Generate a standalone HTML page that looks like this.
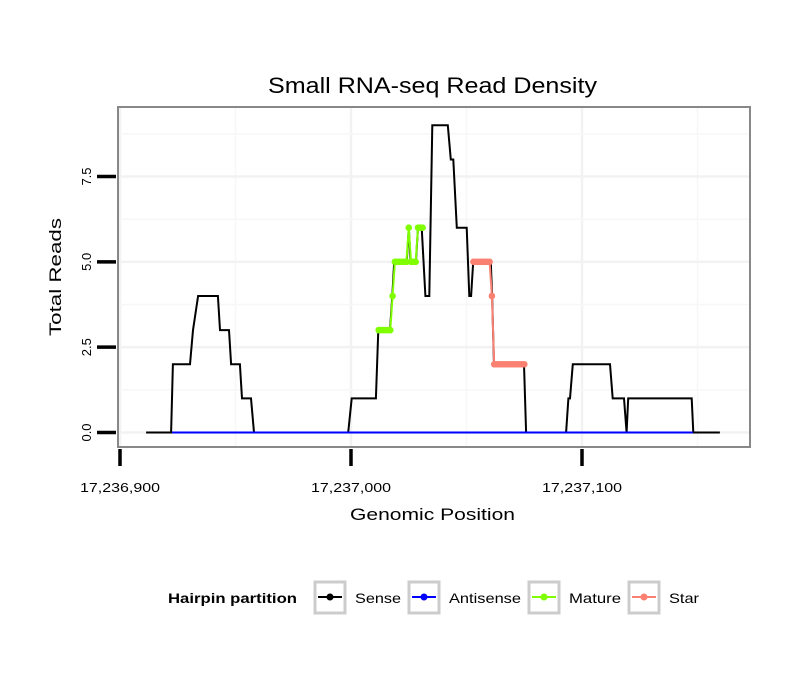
<!DOCTYPE html>
<html><head><meta charset="utf-8"><style>
body{margin:0;background:#fff;}
svg{display:block;font-family:"Liberation Sans",sans-serif;}
</style></head><body>
<svg id="c" width="810" height="690" viewBox="0 0 810 690">
<text x="268" y="93" font-size="22" textLength="329" lengthAdjust="spacingAndGlyphs">Small RNA-seq Read Density</text>
<g id="grid"></g>
<rect x="118" y="107" width="632" height="340" fill="none" stroke="#888" stroke-width="2"/>
<g id="series"></g>
<g id="axes"></g>
<text x="0" y="0" font-size="17" textLength="118" lengthAdjust="spacingAndGlyphs" transform="translate(61 336) rotate(-90)">Total Reads</text>
<text x="350" y="520" font-size="17" textLength="165" lengthAdjust="spacingAndGlyphs">Genomic Position</text>
<g>
<text x="168" y="603" font-size="14" font-weight="bold" textLength="129" lengthAdjust="spacingAndGlyphs">Hairpin partition</text>
<g><rect x="315" y="582" width="30" height="31" fill="#fff" stroke="#ccc" stroke-width="3"/><line x1="318" y1="597" x2="342" y2="597" stroke="#000" stroke-width="2"/><circle cx="330" cy="597" r="3.5" fill="#000"/><text x="355" y="603" font-size="14" textLength="46" lengthAdjust="spacingAndGlyphs">Sense</text></g>
<g><rect x="409" y="582" width="30" height="31" fill="#fff" stroke="#ccc" stroke-width="3"/><line x1="412" y1="597" x2="436" y2="597" stroke="#0000ff" stroke-width="2"/><circle cx="424" cy="597" r="3.5" fill="#0000ff"/><text x="449" y="603" font-size="14" textLength="72" lengthAdjust="spacingAndGlyphs">Antisense</text></g>
<g><rect x="529" y="582" width="30" height="31" fill="#fff" stroke="#ccc" stroke-width="3"/><line x1="532" y1="597" x2="556" y2="597" stroke="#7fff00" stroke-width="2"/><circle cx="544" cy="597" r="3.5" fill="#7fff00"/><text x="569" y="603" font-size="14" textLength="52" lengthAdjust="spacingAndGlyphs">Mature</text></g>
<g><rect x="629" y="582" width="30" height="31" fill="#fff" stroke="#ccc" stroke-width="3"/><line x1="632" y1="597" x2="656" y2="597" stroke="#fa8072" stroke-width="2"/><circle cx="644" cy="597" r="3.5" fill="#fa8072"/><text x="669" y="603" font-size="14" textLength="30" lengthAdjust="spacingAndGlyphs">Star</text></g>
</g>
</svg>
<script>
const base = 17236900;
const senseX = [11.3,22.1,22.9,30.3,31.6,33.8,42.4,43.3,47.2,48.1,51.9,52.8,56.7,58,98.8,100.3,110.8,111.8,116.9,117.9,118.7,124.1,125,125.8,128.1,129,130.6,132.2,133.9,135.2,141.9,143.2,144.3,145.8,150.1,151.2,152,152.9,160.5,161.1,161.9,174.9,175.8,193.1,194.1,194.8,196,212.1,213.3,218.2,219.3,220,247.5,248.2,259.7];
const senseY = [0,0,2,2,3,4,4,3,3,2,2,1,1,0,0,1,1,3,3,4,5,5,6,5,5,6,6,4,4,9,9,8,8,6,6,4,4,5,5,4,2,2,0,0,1,1,2,2,1,1,0,1,1,0,0];
const antiX = [22.5,248];
const antiY = [0,0];
const matureX = [112,113,114,115,116,117,118,119,120,121,122,123,124,125,126,127,128,129,130,131];
const matureY = [3,3,3,3,3,3,4,5,5,5,5,5,5,6,5,5,5,6,6,6];
const starX = [153,154,155,156,157,158,159,160,161,162,163,164,165,166,167,168,169,170,171,172,173,174,175];
const starY = [5,5,5,5,5,5,5,5,4,2,2,2,2,2,2,2,2,2,2,2,2,2,2];
const xTicks = [17236900,17237000,17237100];
const xTickLabels = ["17,236,900","17,237,000","17,237,100"];
const yTicks = [0,2.5,5,7.5];
const yTickLabels = ["0.0","2.5","5.0","7.5"];

const sx = p => 120 + (p - base) * 2.31;
const sy = v => 432.5 - v * 34.13;
const NS = "http://www.w3.org/2000/svg";
function mk(tag, attrs, parent){const e=document.createElementNS(NS,tag);for(const k in attrs)e.setAttribute(k,attrs[k]);parent.appendChild(e);return e;}
const grid=document.getElementById('grid'), series=document.getElementById('series'), axes=document.getElementById('axes');

for(let i=0;i<xTicks.length;i++){
  const x=sx(xTicks[i]);
  const g=mk('line',{x1:x,y1:108,x2:x,y2:446,stroke:'#f2f2f2','stroke-width':2.5},grid);
  
  
  const xm=sx(xTicks[i]+50);
  if(xm<750){const m=mk('line',{x1:xm,y1:108,x2:xm,y2:446,stroke:'#f7f7f7','stroke-width':1.5},grid);
  
  }
}
for(let i=0;i<yTicks.length;i++){
  const y=sy(yTicks[i]);
  const g=mk('line',{x1:119,y1:y,x2:749,y2:y,stroke:'#f2f2f2','stroke-width':2.5},grid);
  
  
  const ym=sy(yTicks[i]+1.25);
  if(ym>108){const m=mk('line',{x1:119,y1:ym,x2:749,y2:ym,stroke:'#f7f7f7','stroke-width':1.5},grid);
  
  }
}

const line=(X,Y,color,name)=>{const d=X.map((x,i)=>(i?'L':'M')+sx(base+x).toFixed(1)+' '+sy(Y[i]).toFixed(1)).join(' ');
  const p=mk('path',{d:d,fill:'none',stroke:color,'stroke-width':2},series);
  
  };
line(senseX,senseY,'#000','sense-line');
line(antiX,antiY,'#0000ff','antisense-line');
const pts=(X,Y,color,name)=>{for(let i=0;i<X.length;i++){
  if(i>0){mk('line',{x1:sx(base+X[i-1]),y1:sy(Y[i-1]),x2:sx(base+X[i]),y2:sy(Y[i]),stroke:color,'stroke-width':2},series);}
  const c=mk('circle',{cx:sx(base+X[i]),cy:sy(Y[i]),r:3.3,fill:color},series);
  
  }};
pts(matureX,matureY,'#7fff00','mature-point');
pts(starX,starY,'#fa8072','star-point');

for(let i=0;i<yTicks.length;i++){
  const y=sy(yTicks[i]);
  const t=mk('line',{x1:97,y1:y,x2:116,y2:y,stroke:'#000','stroke-width':3.5},axes);
  
  
  const l=mk('text',{x:0,y:0,'font-size':13,'text-anchor':'middle',transform:`translate(${91},${y}) rotate(-90)`},axes);
  l.textContent=yTickLabels[i];
  
  
}
for(let i=0;i<xTicks.length;i++){
  const x=sx(xTicks[i]);
  const t=mk('line',{x1:x,y1:449,x2:x,y2:466,stroke:'#000','stroke-width':3.5},axes);
  
  
  const l=mk('text',{x:x-40,y:492,'font-size':13,textLength:80,lengthAdjust:'spacingAndGlyphs'},axes);
  l.textContent=xTickLabels[i];
  
  
}
</script>
</body></html>
